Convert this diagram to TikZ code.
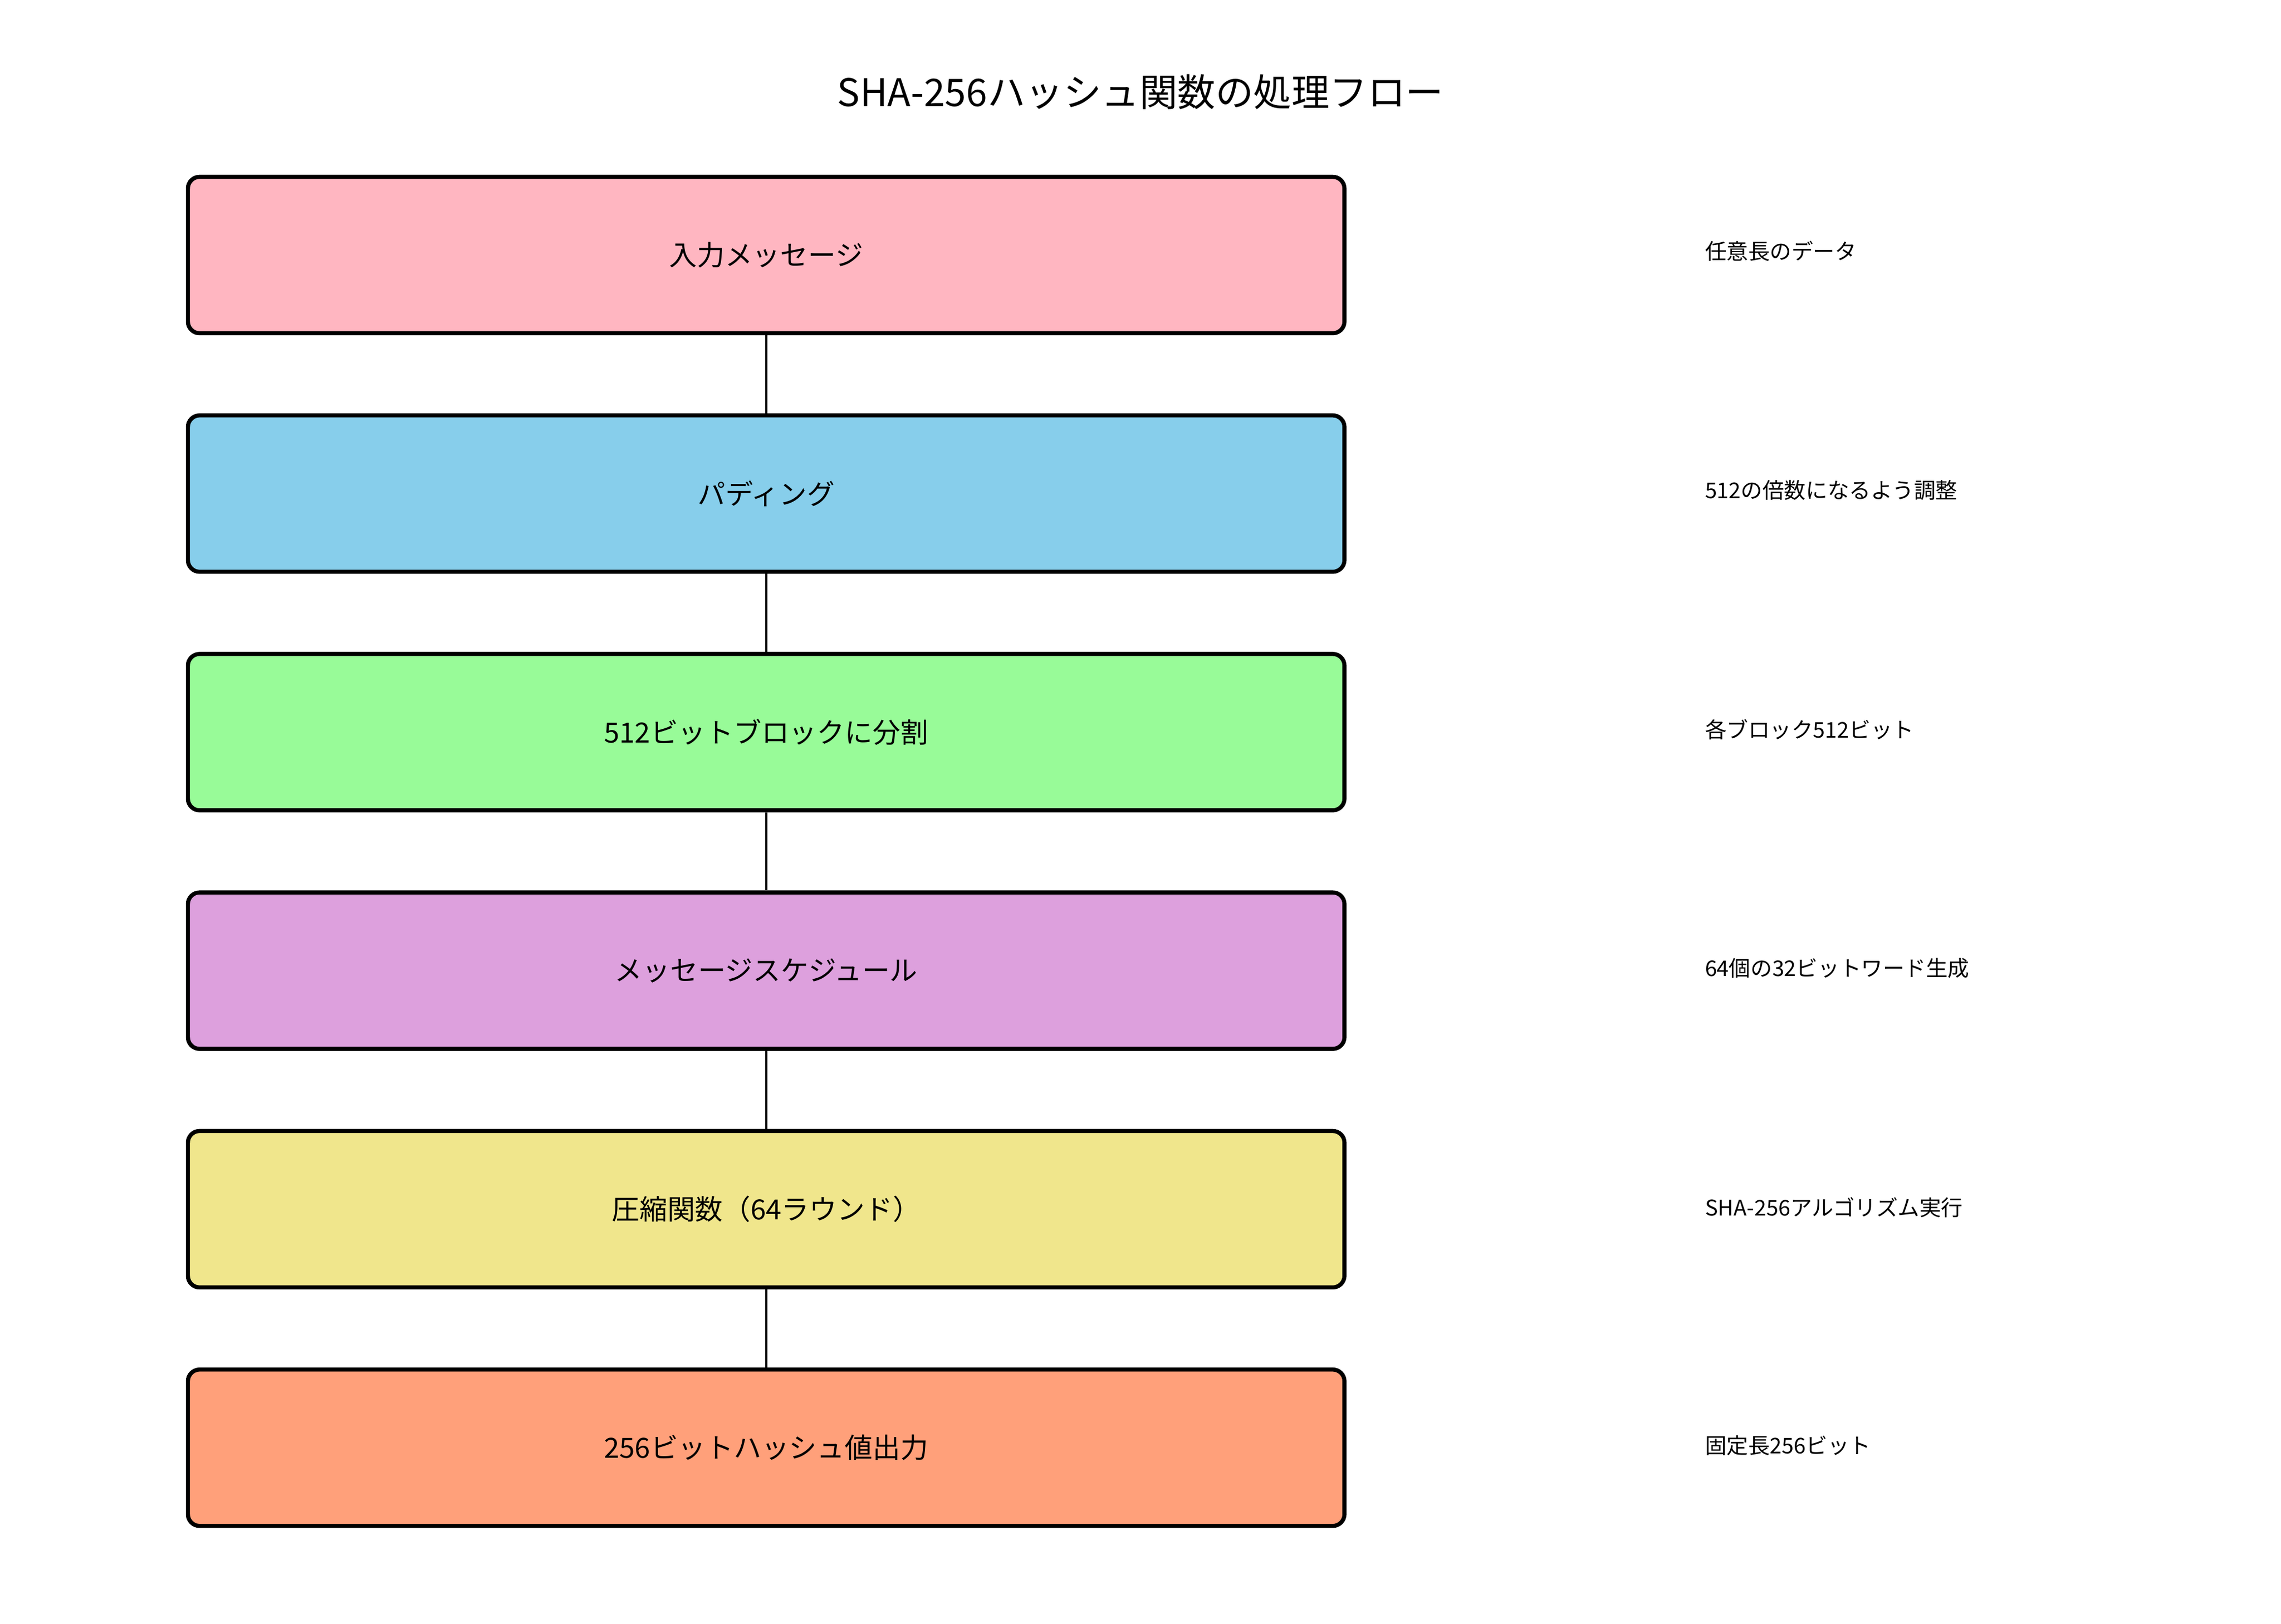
\documentclass[tikz,border=0pt]{standalone}
\usepackage{fontspec}
\setmainfont{Noto Sans CJK JP}
\begin{document}
\begin{tikzpicture}[x=0.5pt,y=-0.5pt,
  stepbox/.style={draw=black,line width=1.4pt,rounded corners=4pt,minimum width=395.5pt,minimum height=53.5pt,font=\fontsize{9.5}{12}\selectfont},
  side/.style={anchor=west,font=\fontsize{7.4}{9}\selectfont},
  conn/.style={line width=0.7pt}]
\useasboundingbox (0,0) rectangle (1560,1111);
\definecolor{c1}{HTML}{FFB6C1}\definecolor{c2}{HTML}{87CEEB}\definecolor{c3}{HTML}{98FB98}
\definecolor{c4}{HTML}{DDA0DD}\definecolor{c5}{HTML}{F0E68C}\definecolor{c6}{HTML}{FFA07A}
\node[font=\fontsize{13}{15}\selectfont] (title) at (780,63) {SHA-256ハッシュ関数の処理フロー};
\node[stepbox,fill=c1] (b1) at (524,174.5) {入力メッセージ};
\node[stepbox,fill=c2] (b2) at (524,337.7) {パディング};
\node[stepbox,fill=c3] (b3) at (524,500.9) {512ビットブロックに分割};
\node[stepbox,fill=c4] (b4) at (524,664.1) {メッセージスケジュール};
\node[stepbox,fill=c5] (b5) at (524,827.3) {圧縮関数（64ラウンド）};
\node[stepbox,fill=c6] (b6) at (524,990.5) {256ビットハッシュ値出力};
\draw[conn] (b1) -- (b2); \draw[conn] (b2) -- (b3); \draw[conn] (b3) -- (b4);
\draw[conn] (b4) -- (b5); \draw[conn] (b5) -- (b6);
\node[side] (l1) at (1159,172) {任意長のデータ};
\node[side] (l2) at (1159,335.5) {512の倍数になるよう調整};
\node[side] (l3) at (1159,499) {各ブロック512ビット};
\node[side] (l4) at (1159,662.5) {64個の32ビットワード生成};
\node[side] (l5) at (1159,826) {SHA-256アルゴリズム実行};
\node[side] (l6) at (1159,989) {固定長256ビット};
\end{tikzpicture}
\end{document}
